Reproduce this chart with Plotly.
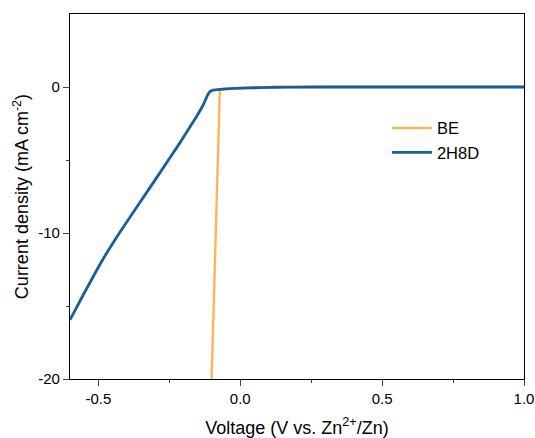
import plotly.graph_objects as go

# BE series
be_v = [-0.101, -0.096, -0.090, -0.083, -0.078, -0.074, -0.072, -0.066, -0.055, -0.04, -0.02, 0.0, 0.05, 0.1, 0.15, 0.2, 0.3, 0.5, 0.7, 1.0]
be_j = [-20.0, -16.6, -12.5, -7.0, -3.5, -1.2, -0.25, -0.2, -0.16, -0.13, -0.1, -0.08, -0.05, -0.03, -0.015, -0.005, 0.0, 0.0, 0.0, 0.0]

# 2H8D series
h_v = [-0.6, -0.555, -0.49, -0.426, -0.355, -0.284, -0.214, -0.155, -0.131, -0.115, -0.106, -0.096, -0.07, -0.037, 0.0, 0.05, 0.1, 0.15, 0.2, 0.3, 0.5, 0.7, 1.0]
h_j = [-15.95, -14.3, -12.0, -10.0, -7.95, -5.9, -3.86, -2.05, -1.25, -0.55, -0.3, -0.22, -0.16, -0.11, -0.08, -0.05, -0.025, -0.01, -0.004, 0.0, 0.0, 0.0, 0.0]

series_names = ["BE", "2H8D"]
x_ticks = [-0.5, 0.0, 0.5, 1.0]
x_tick_text = ["-0.5", "0.0", "0.5", "1.0"]
y_ticks = [-20, -10, 0]
y_tick_text = ["-20", "-10", "0"]

fig = go.Figure()
fig.add_trace(go.Scatter(x=be_v, y=be_j, mode="lines", name=series_names[0],
                         line=dict(color="#FDB558", width=2.4)))
fig.add_trace(go.Scatter(x=h_v, y=h_j, mode="lines", name=series_names[1],
                         line=dict(color="#1A5E95", width=2.8, shape="spline", smoothing=0.4)))

font = "Arial, Liberation Sans, sans-serif"
fig.update_layout(
    width=535, height=438,
    margin=dict(l=70, r=11, t=14, b=59),
    paper_bgcolor="white", plot_bgcolor="white",
    font=dict(family=font, size=15, color="black"),
    showlegend=True,
    legend=dict(x=0.698, y=0.735, xanchor="left", yanchor="top",
                bgcolor="rgba(0,0,0,0)", font=dict(size=16.5, family=font),
                itemwidth=40, tracegroupgap=0),
    xaxis=dict(range=[-0.6, 1.0], tickvals=x_ticks, ticktext=x_tick_text,
               showgrid=False, zeroline=False, showline=True, linecolor="black",
               linewidth=1.2, mirror=True, ticks="outside", ticklen=6, tickwidth=1.2,
               tickfont=dict(size=15), automargin=False,
               minor=dict(tickvals=[-0.25, 0.25, 0.75], ticks="outside", ticklen=3, tickwidth=1.2, showgrid=False),
               title=dict(text="Voltage (V vs. Zn<sup>2+</sup>/Zn)", font=dict(size=18), standoff=15)),
    yaxis=dict(range=[-20, 5], tickvals=y_ticks, ticktext=y_tick_text,
               showgrid=False, zeroline=False, showline=True, linecolor="black",
               linewidth=1.2, mirror=True, ticks="outside", ticklen=6, tickwidth=1.2,
               tickfont=dict(size=15), automargin=False,
               minor=dict(tickvals=[-15, -5], ticks="outside", ticklen=3, tickwidth=1.2, showgrid=False),
               title=dict(text="Current density (mA cm<sup>-2</sup>)", font=dict(size=18), standoff=4)),
)

fig.write_html("out.html")
